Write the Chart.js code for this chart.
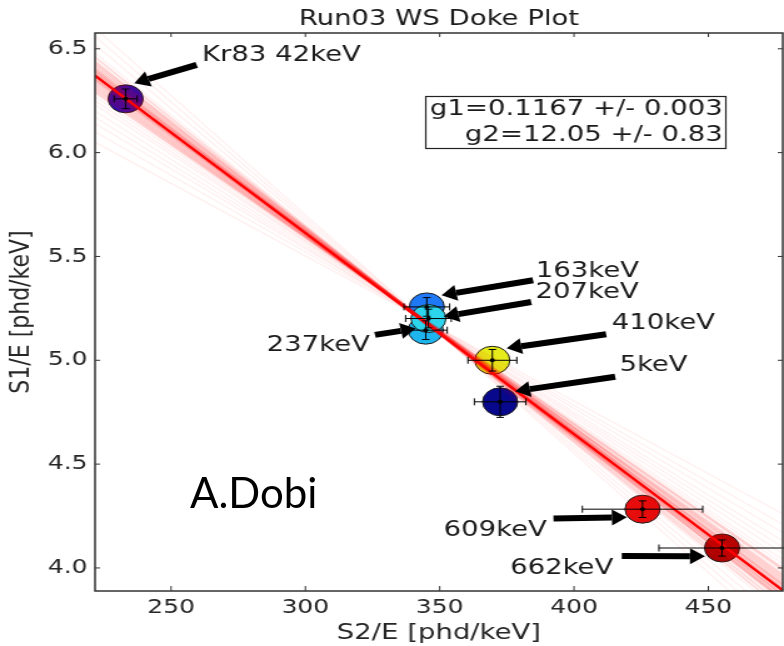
<!DOCTYPE html>
<html>
<head>
<meta charset="utf-8">
<script src="https://cdn.jsdelivr.net/npm/chart.js@4.4.1/dist/chart.umd.min.js"></script>
<style>
  html, body { margin: 0; padding: 0; background: #fff; }
  #wrap { position: relative; width: 784px; height: 646px; overflow: hidden; }
  #doke { display: block; }
  #author { position: absolute; left: 190px; top: 471px; font-family: Lato, sans-serif;
            font-size: 42px; line-height: 42px; color: #000; white-space: nowrap; }
</style>
</head>
<body>
<div id="wrap">
  <!-- drawn narrow, shown wide: the plot is horizontally stretched -->
  <canvas id="doke" width="627" height="646" style="width:784px;height:646px"></canvas>
  <div id="author">A.Dobi</div>
</div>
<script>
// calibration lines, drawn bottom to top
const lineNames = ['Kr83 42keV', '5keV', '163keV', '237keV', '207keV', '410keV', '609keV', '662keV'];
const s2Vals = [233.1, 372.5, 345.2, 344.8, 345.8, 369.6, 425.5, 455.1];   // S2/E [phd/keV]
const s1Vals = [6.259, 4.800, 5.257, 5.145, 5.201, 5.000, 4.283, 4.096];   // S1/E [phd/keV]
const s2Err  = [4.3, 9.6, 8.5, 8.0, 8.5, 9.1, 22.4, 23.5];
const s1Err  = [0.047, 0.075, 0.045, 0.045, 0.045, 0.052, 0.040, 0.039];
const pointColors = ['#2a0cb0', '#08088c', '#1f78f5', '#1eb4ee', '#2cd4ec', '#e6ec1c', '#e60d0d', '#a80404'];

// best fit and resampled fits, given as S1/E at the two ends of the x range
const fitX = [221.7, 477.7];
const fitBest = [6.371, 3.892];
const fitSpreadLeft  = [6.60, 6.56, 6.52, 6.48, 6.46, 6.44, 6.43, 6.42, 6.41, 6.40, 6.40, 6.39, 6.39, 6.38, 6.38,
                        6.37, 6.37, 6.36, 6.36, 6.35, 6.35, 6.34, 6.33, 6.32, 6.31, 6.30, 6.29, 6.27, 6.25, 6.23,
                        6.20, 6.17, 6.14, 6.10, 6.05];
const fitSpreadRight = [3.66, 3.70, 3.74, 3.78, 3.80, 3.82, 3.84, 3.85, 3.86, 3.87, 3.85, 3.87, 3.89, 3.88, 3.90,
                        3.89, 3.91, 3.90, 3.92, 3.92, 3.94, 3.93, 3.95, 3.96, 3.97, 3.99, 4.00, 4.02, 4.04, 4.07,
                        4.10, 4.13, 4.17, 4.21, 4.26];

const xTicks = [250, 300, 350, 400, 450];
const yTicks = [4.0, 4.5, 5.0, 5.5, 6.0, 6.5];
const fitText = ['g1=0.1167 +/- 0.003', 'g2=12.05 +/- 0.83'];

// arrow tip, arrow tail and label anchor, in px relative to each point
const callouts = [
  { tip: [6.9, -15.7],  tail: [56.8, -34],  text: [61, -38.2],   align: 'left' },
  { tip: [12, -10.6],   tail: [92, -25],    text: [95.4, -30.6], align: 'left' },
  { tip: [11.8, -11.6], tail: [85, -26.6],  text: [87.2, -30],   align: 'left' },
  { tip: [-8, -1.6],    tail: [-40.6, 4.7], text: [-44.6, 20.7], align: 'right' },
  { tip: [12.2, -2],    tail: [82.2, -16.6],text: [85.6, -20.3], align: 'left' },
  { tip: [11.4, -12],   tail: [91, -26],    text: [95.5, -31],   align: 'left' },
  { tip: [-12.5, 8],    tail: [-71.2, 9.3], text: [-76.5, 27],   align: 'right' },
  { tip: [-13.6, 8.3],  tail: [-80.2, 8],   text: [-87, 26.3],   align: 'right' }
];

Chart.defaults.font.family = '"DejaVu Sans", sans-serif';

function arrow(ctx, x0, y0, x1, y1) {
  const a = Math.atan2(y1 - y0, x1 - x0);
  const head = 12, half = 8;
  const bx = x1 - head * Math.cos(a), by = y1 - head * Math.sin(a);
  ctx.lineWidth = 6;
  ctx.lineCap = 'butt';
  ctx.beginPath(); ctx.moveTo(x0, y0); ctx.lineTo(bx, by); ctx.stroke();
  ctx.beginPath();
  ctx.moveTo(x1, y1);
  ctx.lineTo(bx + half * Math.sin(a), by - half * Math.cos(a));
  ctx.lineTo(bx - half * Math.sin(a), by + half * Math.cos(a));
  ctx.closePath();
  ctx.fill();
}

const decorations = {
  id: 'decorations',
  afterDatasetsDraw(chart) {
    const { ctx, scales: { x, y } } = chart;
    ctx.save();
    ctx.strokeStyle = '#000';
    ctx.fillStyle = '#000';
    ctx.lineWidth = 1;
    s2Vals.forEach((v, i) => {
      const px = x.getPixelForValue(v), py = y.getPixelForValue(s1Vals[i]);
      const x0 = x.getPixelForValue(v - s2Err[i]), x1 = x.getPixelForValue(v + s2Err[i]);
      const y0 = y.getPixelForValue(s1Vals[i] - s1Err[i]), y1 = y.getPixelForValue(s1Vals[i] + s1Err[i]);
      ctx.beginPath();
      ctx.moveTo(x0, py); ctx.lineTo(x1, py);
      ctx.moveTo(x0, py - 3.5); ctx.lineTo(x0, py + 3.5);
      ctx.moveTo(x1, py - 3.5); ctx.lineTo(x1, py + 3.5);
      ctx.moveTo(px, y0); ctx.lineTo(px, y1);
      ctx.moveTo(px - 3, y0); ctx.lineTo(px + 3, y0);
      ctx.moveTo(px - 3, y1); ctx.lineTo(px + 3, y1);
      ctx.stroke();
      ctx.beginPath(); ctx.arc(px, py, 2, 0, Math.PI * 2); ctx.fill();
    });
    ctx.restore();
  },
  afterDraw(chart) {
    const { ctx, chartArea: area, scales: { x, y } } = chart;
    ctx.save();
    // axes frame with inward ticks on all four sides
    ctx.strokeStyle = '#333';
    ctx.lineWidth = 1.5;
    ctx.strokeRect(area.left, area.top, area.right - area.left, area.bottom - area.top);
    ctx.lineWidth = 1;
    ctx.beginPath();
    xTicks.forEach(v => {
      const px = x.getPixelForValue(v);
      ctx.moveTo(px, area.bottom); ctx.lineTo(px, area.bottom - 5);
      ctx.moveTo(px, area.top); ctx.lineTo(px, area.top + 4);
    });
    yTicks.forEach(v => {
      const py = y.getPixelForValue(v);
      ctx.moveTo(area.left, py); ctx.lineTo(area.left + 4, py);
      ctx.moveTo(area.right, py); ctx.lineTo(area.right - 4, py);
    });
    ctx.stroke();

    // energy callouts
    ctx.strokeStyle = '#000';
    ctx.font = '22px "DejaVu Sans"';
    ctx.textBaseline = 'alphabetic';
    callouts.forEach((c, i) => {
      const px = x.getPixelForValue(s2Vals[i]), py = y.getPixelForValue(s1Vals[i]);
      ctx.fillStyle = '#000';
      arrow(ctx, px + c.tail[0], py + c.tail[1], px + c.tip[0], py + c.tip[1]);
      ctx.fillStyle = '#1a1a1a';
      ctx.textAlign = c.align;
      ctx.fillText(lineNames[i], px + c.text[0], py + c.text[1]);
    });

    // fit result box
    ctx.fillStyle = '#fff';
    ctx.fillRect(340.5, 96.5, 240, 52);
    ctx.strokeStyle = '#222';
    ctx.lineWidth = 1.2;
    ctx.strokeRect(340.5, 96.5, 240, 52);
    ctx.fillStyle = '#1a1a1a';
    ctx.textAlign = 'right';
    ctx.fillText(fitText[0], 578, 115);
    ctx.fillText(fitText[1], 578, 141);
    ctx.restore();
  }
};

const datasets = [{
  type: 'line',
  data: fitX.map((v, i) => ({ x: v, y: fitBest[i] })),
  borderColor: '#ff0000',
  borderWidth: 2.4,
  pointRadius: 0,
  clip: 0
}];
fitSpreadLeft.forEach((l, i) => {
  // resampled fits far from the best fit are drawn fainter
  const near = Math.abs(l - fitBest[0]) < 0.09;
  datasets.push({
    type: 'line',
    data: [{ x: fitX[0], y: l }, { x: fitX[1], y: fitSpreadRight[i] }],
    borderColor: near ? 'rgba(255,0,0,0.14)' : 'rgba(255,0,0,0.06)',
    borderWidth: near ? 2 : 1.5,
    pointRadius: 0,
    clip: 0
  });
});
datasets.push({
  type: 'scatter',
  data: s2Vals.map((v, i) => ({ x: v, y: s1Vals[i] })),
  pointBackgroundColor: pointColors,
  pointBorderColor: '#1a1a1a',
  pointBorderWidth: 1,
  pointRadius: 14,
  clip: 0
});

new Chart(document.getElementById('doke'), {
  type: 'scatter',
  data: { datasets },
  options: {
    responsive: false,
    animation: false,
    events: [],
    layout: { autoPadding: false, padding: { left: 0, right: 1, top: 0, bottom: 0 } },
    plugins: {
      legend: { display: false },
      tooltip: { enabled: false },
      title: {
        display: true,
        fullSize: false,
        text: 'Run03 WS Doke Plot',
        color: '#1a1a1a',
        font: { size: 22, weight: 'normal', lineHeight: 1 },
        padding: { top: 8, bottom: 3 }
      }
    },
    scales: {
      x: {
        type: 'linear',
        min: fitX[0],
        max: fitX[1],
        afterBuildTicks: s => { s.ticks = xTicks.map(v => ({ value: v })); },
        afterFit: s => { s.height = 55; },
        grid: { display: false, drawTicks: false },
        border: { display: false },
        ticks: { padding: 5, color: '#262626', font: { size: 20 }, maxRotation: 0 },
        title: { display: true, text: 'S2/E [phd/keV]', color: '#262626',
                 font: { size: 22, lineHeight: 1 }, padding: { top: 0, bottom: 2 } }
      },
      y: {
        type: 'linear',
        min: 3.889,
        max: 6.576,
        afterBuildTicks: s => { s.ticks = yTicks.map(v => ({ value: v })); },
        afterFit: s => { s.width = 76; },
        grid: { display: false, drawTicks: false },
        border: { display: false },
        ticks: { padding: 6, color: '#262626', font: { size: 20 }, callback: v => v.toFixed(1) },
        title: { display: true, text: 'S1/E [phd/keV]', color: '#262626',
                 font: { size: 22, lineHeight: 1 }, padding: { top: 6, bottom: 0 } }
      }
    }
  },
  plugins: [decorations]
});
</script>
</body>
</html>
